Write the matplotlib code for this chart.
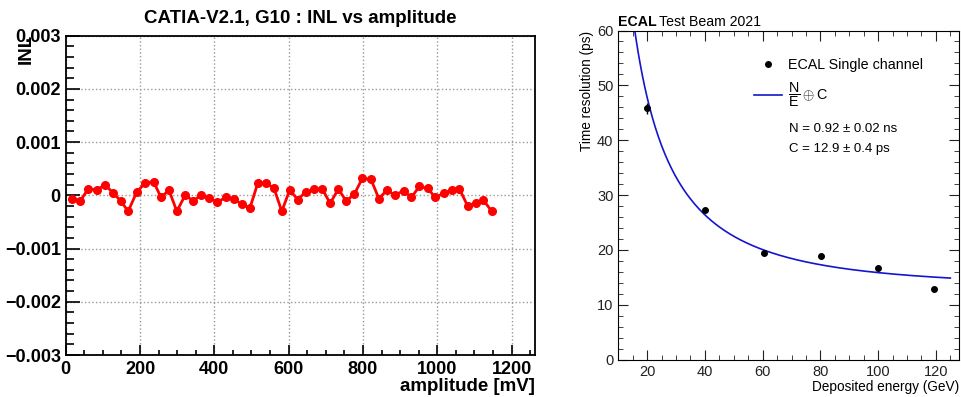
import numpy as np
import matplotlib.pyplot as plt
from matplotlib.ticker import MultipleLocator, FuncFormatter

plt.rcParams['font.family'] = ['Liberation Sans', 'DejaVu Sans']
plt.rcParams['mathtext.fontset'] = 'custom'
plt.rcParams['mathtext.rm'] = 'Liberation Sans'
plt.rcParams['axes.unicode_minus'] = True

# INL vs amplitude (left)
amp_mv = [16.6, 39.7, 60.9, 83.1, 106.2, 126.5, 147.7, 168.0, 191.1, 213.2,
          236.3, 256.6, 277.8, 299.1, 321.2, 343.4, 364.6, 385.8, 408.0, 430.2,
          452.3, 473.5, 495.7, 516.9, 538.2, 560.3, 581.5, 602.8, 624.9, 646.2,
          668.3, 690.5, 711.7, 733.8, 755.1, 777.2, 798.5, 821.5, 842.8, 864.9,
          886.2, 909.2, 930.5, 951.7, 973.8, 995.1, 1017.2, 1039.4, 1059.7, 1081.8,
          1104.0, 1124.3, 1146.5]
inl = [-0.000075, -0.0001, 0.000125, 0.0001, 0.0002, 0.00005, -0.0001, -0.0003,
       0.00006, 0.00023, 0.00026, -0.00004, 0.0001, -0.0003, 0.0, -0.0001,
       0.0, -0.00005, -0.00013, -0.00004, -0.00006, -0.00017, -0.00024, 0.00023,
       0.00023, 0.00014, -0.0003, 0.0001, -0.00008, 0.00007, 0.00011, 0.00012,
       -0.00015, 0.00012, -0.00011, 0.00003, 0.00032, 0.0003, -0.00006, 0.0001,
       0.0, 0.00009, -0.00004, 0.00017, 0.00013, -0.00004, 0.00004, 0.0001,
       0.00012, -0.0002, -0.00014, -0.00009, -0.0003]

# time resolution vs energy (right)
energy = [20, 40, 60.5, 80.3, 100, 119.2]
sigma_t = [45.8, 27.3, 19.5, 18.8, 16.7, 12.9]
sigma_err = [1.0, 0.4, 0.4, 0.4, 0.4, 0.4]
N_fit = 920.0   # ps*GeV  (0.92 ns)
C_fit = 12.9    # ps

W, H = 962, 397
def rect(l, t, r, b):
    return [l / W, 1 - b / H, (r - l) / W, (b - t) / H]

fig = plt.figure(figsize=(9.62, 3.97), dpi=100)

# ---- left panel
ax1 = fig.add_axes(rect(65.7, 35.7, 535, 355))
ax1.plot(amp_mv, inl, color='red', lw=2, marker='o', ms=5.5, zorder=3)
ax1.set_xlim(0, 1263)
ax1.set_ylim(-0.003, 0.003)
ax1.xaxis.set_major_locator(MultipleLocator(200))
ax1.xaxis.set_minor_locator(MultipleLocator(50))
ax1.yaxis.set_major_locator(MultipleLocator(0.001))
ax1.yaxis.set_minor_locator(MultipleLocator(0.0002))
ax1.yaxis.set_major_formatter(FuncFormatter(
    lambda v, p: '0' if abs(v) < 1e-9 else f'{v:.3f}'.replace('-', '\u2212')))
ax1.grid(True, which='major', color='#999999', linestyle=':', lw=1)
ax1.tick_params(direction='in', which='both', top=False, right=False)
ax1.tick_params(axis='y', which='major', length=10, width=1.2, labelsize=13)
ax1.tick_params(axis='y', which='minor', length=5.5, width=1.2)
ax1.tick_params(axis='x', which='major', length=7, width=1.2, labelsize=13, pad=4)
ax1.tick_params(axis='x', which='minor', length=3.5, width=1.2)
for lab in ax1.get_xticklabels() + ax1.get_yticklabels():
    lab.set_fontweight('bold')
for s in ax1.spines.values():
    s.set_linewidth(1.3)
ax1.set_title('CATIA-V2.1, G10 : INL vs amplitude', fontsize=13.5,
              fontweight='bold', pad=9)
ax1.set_xlabel('amplitude [mV]', loc='right', fontsize=13.5,
               fontweight='bold', labelpad=0)
ax1.set_ylabel('INL', loc='top', fontsize=13.5, fontweight='bold')
ax1.yaxis.set_label_coords(-0.066, 1.005)

# ---- right panel
ax2 = fig.add_axes(rect(618.3, 30.5, 959, 359.5))
e_fit = np.linspace(15.5, 125, 300)
fit_line, = ax2.plot(e_fit, np.hypot(N_fit / e_fit, C_fit), color='#1515d0', lw=1.2)
eb = ax2.errorbar(energy, sigma_t, yerr=sigma_err, fmt='o', color='black', ms=4,
                  elinewidth=1, capsize=0, zorder=4)
ax2.set_xlim(10, 128)
ax2.set_ylim(0, 60)
ax2.xaxis.set_major_locator(MultipleLocator(20))
ax2.xaxis.set_minor_locator(MultipleLocator(5))
ax2.yaxis.set_major_locator(MultipleLocator(10))
ax2.yaxis.set_minor_locator(MultipleLocator(2))
ax2.tick_params(direction='in', which='both', top=True, right=True,
                labelsize=10.5, colors='#222222')
ax2.tick_params(which='major', length=7)
ax2.tick_params(which='minor', length=3.5)
ax2.tick_params(axis='x', pad=4)
ax2.set_xlabel('Deposited energy (GeV)', loc='right', fontsize=9.8, labelpad=1)
ax2.set_ylabel('Time resolution (ps)', loc='top', fontsize=9.8, labelpad=2)
ax2.text(0.0, 1.005, 'ECAL', transform=ax2.transAxes, fontsize=10.2,
         fontweight='bold', va='bottom', ha='left')
ax2.text(0.118, 1.005, 'Test Beam 2021', transform=ax2.transAxes, fontsize=10.2,
         va='bottom', ha='left')

ax2.legend([eb.lines[0], fit_line],
           ['ECAL Single channel', r'$\dfrac{\mathrm{N}}{\mathrm{E}}\oplus\mathrm{C}$'],
           loc='upper left', bbox_to_anchor=(0.36, 0.955),
           frameon=False, fontsize=10.3, handlelength=2.0, handletextpad=0.4,
           labelspacing=0.6)
ax2.text(0.5, 0.70, 'N = 0.92 \u00b1 0.02 ns', transform=ax2.transAxes,
         fontsize=9.5, va='center')
ax2.text(0.5, 0.64, 'C = 12.9 \u00b1 0.4 ps', transform=ax2.transAxes,
         fontsize=9.5, va='center')

fig.savefig('out.png', dpi=100)
